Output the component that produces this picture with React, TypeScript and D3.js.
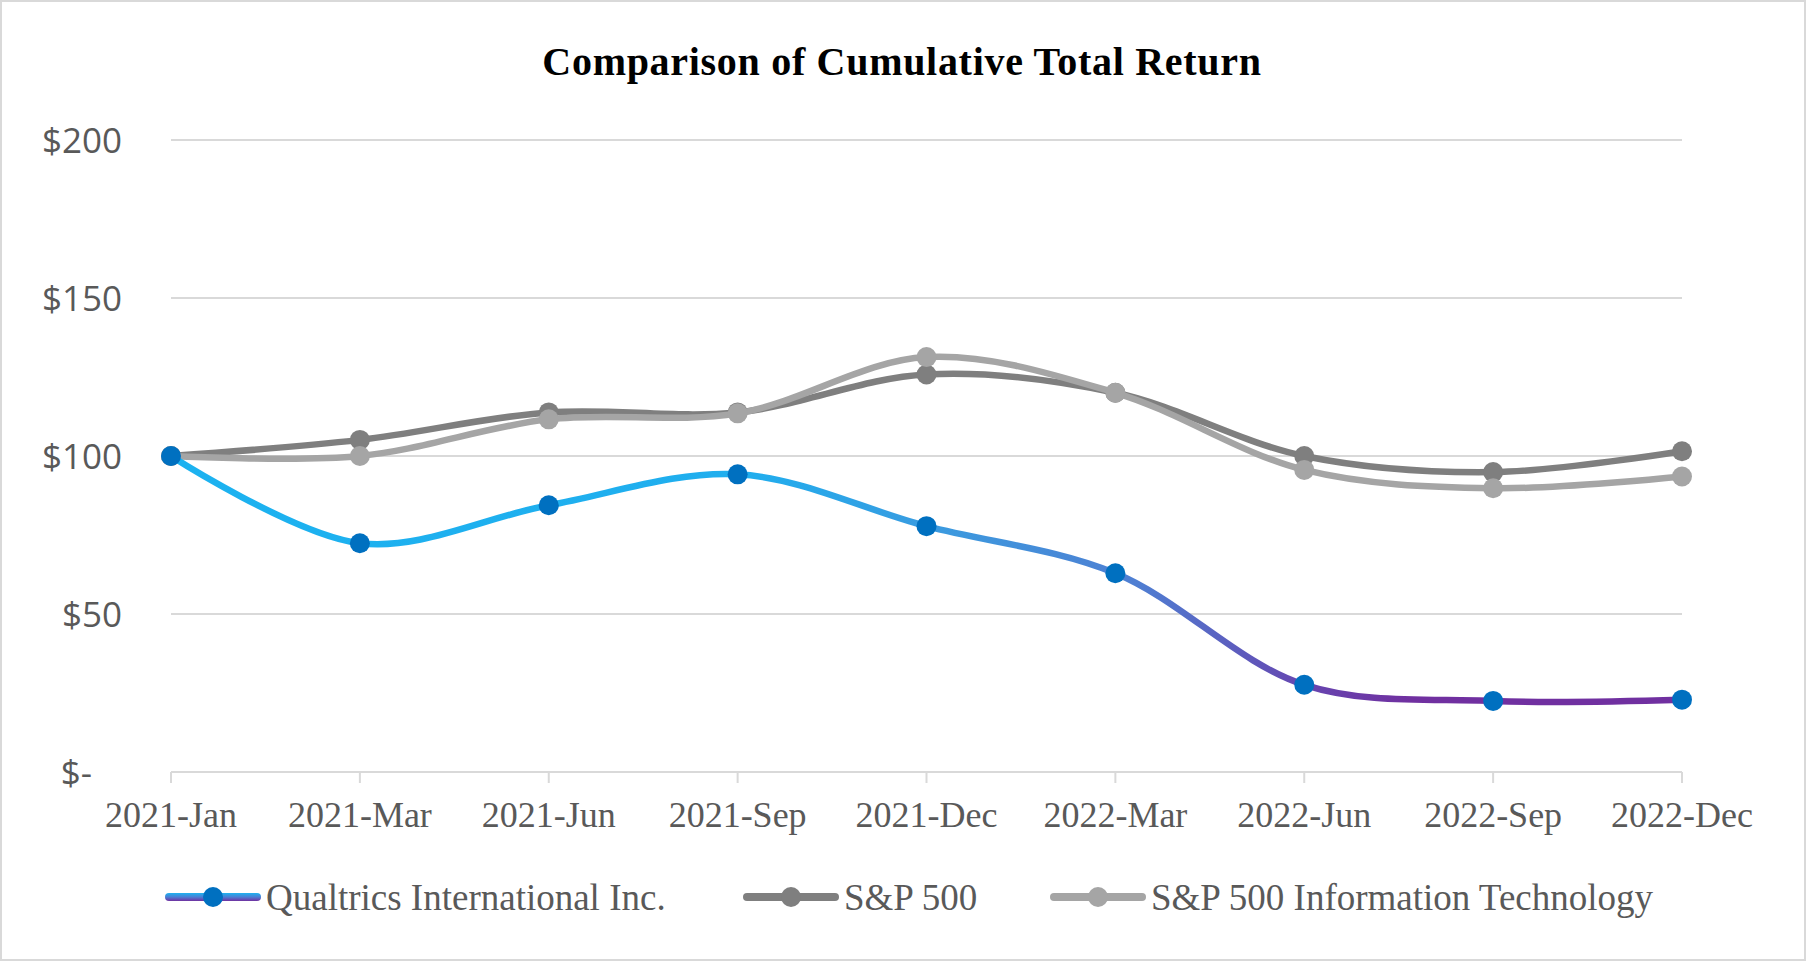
import * as d3 from "d3";

const W = 1806;
const H = 961;

const periods = [
  "2021-Jan",
  "2021-Mar",
  "2021-Jun",
  "2021-Sep",
  "2021-Dec",
  "2022-Mar",
  "2022-Jun",
  "2022-Sep",
  "2022-Dec",
];

const qualtrics = [100, 72.4, 84.4, 94.2, 77.8, 62.9, 27.6, 22.5, 22.9];
const sp500 = [100, 105.1, 113.8, 113.8, 125.8, 120, 100, 94.9, 101.5];
const spIT = [100, 100, 111.6, 113.5, 131.3, 120, 95.6, 89.8, 93.5];

const yTicks = [0, 50, 100, 150, 200];

const margin = { left: 171, right: 124, top: 140, bottom: 189 };

const x = d3
  .scalePoint<string>()
  .domain(periods)
  .range([margin.left, W - margin.right]);

const y = d3
  .scaleLinear()
  .domain([0, 200])
  .range([H - margin.bottom, margin.top]);

const line = d3
  .line<number>()
  .x((_, i) => x(periods[i]) ?? 0)
  .y((d) => y(d))
  .curve(d3.curveCatmullRom.alpha(0.5));

const GRID = "#D9D9D9";
const TEXT = "#595959";
const SERIF = "'Liberation Serif', 'Times New Roman', serif";

type Series = { name: string; values: number[]; stroke: string; marker: string };

const series: Series[] = [
  { name: "S&P 500", values: sp500, stroke: "#7F7F7F", marker: "#7F7F7F" },
  { name: "S&P 500 Information Technology", values: spIT, stroke: "#A5A5A5", marker: "#A5A5A5" },
  { name: "Qualtrics International Inc.", values: qualtrics, stroke: "url(#qGrad)", marker: "#0070C0" },
];

const legendItems = [
  { name: "Qualtrics International Inc.", stroke: "url(#qGradV)", marker: "#0070C0", x: 165 },
  { name: "S&P 500", stroke: "#7F7F7F", marker: "#7F7F7F", x: 743 },
  { name: "S&P 500 Information Technology", stroke: "#A5A5A5", marker: "#A5A5A5", x: 1050 },
];

function fmt(v: number) {
  return v === 0 ? "$-" : `$${v}`;
}

export default function App() {
  const y0 = y(0);
  return (
    <div style={{ position: "fixed", left: 0, top: 0 }}>
      <svg width={W} height={H} style={{ display: "block", background: "#fff" }}>
        <defs>
          <linearGradient id="qGrad" gradientUnits="userSpaceOnUse" x1={margin.left} x2={W - margin.right} y1={0} y2={0}>
            <stop offset="0" stopColor="#1CB2F0" />
            <stop offset="0.38" stopColor="#20AEEE" />
            <stop offset="0.52" stopColor="#3D98DE" />
            <stop offset="0.64" stopColor="#4F7ED2" />
            <stop offset="0.75" stopColor="#6646B0" />
            <stop offset="0.82" stopColor="#7030A0" />
            <stop offset="1" stopColor="#7030A0" />
          </linearGradient>
          <linearGradient id="qGradV" x1="0" x2="0" y1="0" y2="1">
            <stop offset="0" stopColor="#1CB2F0" />
            <stop offset="0.5" stopColor="#4A7FD4" />
            <stop offset="1" stopColor="#7030A0" />
          </linearGradient>
        </defs>
        <rect x={1} y={1} width={W - 2} height={H - 2} fill="#fff" stroke={GRID} strokeWidth={2} />

        <text
          x={902}
          y={75}
          textAnchor="middle"
          fontFamily={SERIF}
          fontWeight="bold"
          fontSize={40}
          letterSpacing={0.7}
          fill="#000"
        >
          Comparison of Cumulative Total Return
        </text>

        {yTicks.map((t) => (
          <g key={t}>
            <line x1={margin.left} x2={W - margin.right} y1={y(t)} y2={y(t)} stroke={GRID} strokeWidth={2} />
            <text
              x={t === 0 ? 92 : 122}
              y={y(t)}
              dy="0.36em"
              textAnchor="end"
              fontFamily="'Open Sans', 'Noto Sans', sans-serif"
              fontSize={35}
              fill={TEXT}
            >
              {fmt(t)}
            </text>
          </g>
        ))}

        {periods.map((p) => (
          <g key={p}>
            <line x1={x(p)} x2={x(p)} y1={y0} y2={y0 + 11} stroke={GRID} strokeWidth={2} />
            <text x={x(p)} y={827} textAnchor="middle" fontFamily={SERIF} fontSize={36} fill={TEXT}>
              {p}
            </text>
          </g>
        ))}

        {series.map((s) => (
          <g key={s.name}>
            <path d={line(s.values) ?? ""} fill="none" stroke={s.stroke} strokeWidth={6.5} strokeLinecap="round" />
            {s.values.map((v, i) => (
              <circle key={i} cx={x(periods[i])} cy={y(v)} r={10} fill={s.marker} />
            ))}
          </g>
        ))}

        {legendItems.map((l) => (
          <g key={l.name} transform={`translate(${l.x},897)`}>
            <rect x={0} y={-4} width={96} height={8} rx={4} fill={l.stroke} />
            <circle cx={48} cy={0} r={10} fill={l.marker} />
            <text x={101} y={0} dy="0.34em" fontFamily={SERIF} fontSize={37} fill={TEXT}>
              {l.name}
            </text>
          </g>
        ))}
      </svg>
    </div>
  );
}
